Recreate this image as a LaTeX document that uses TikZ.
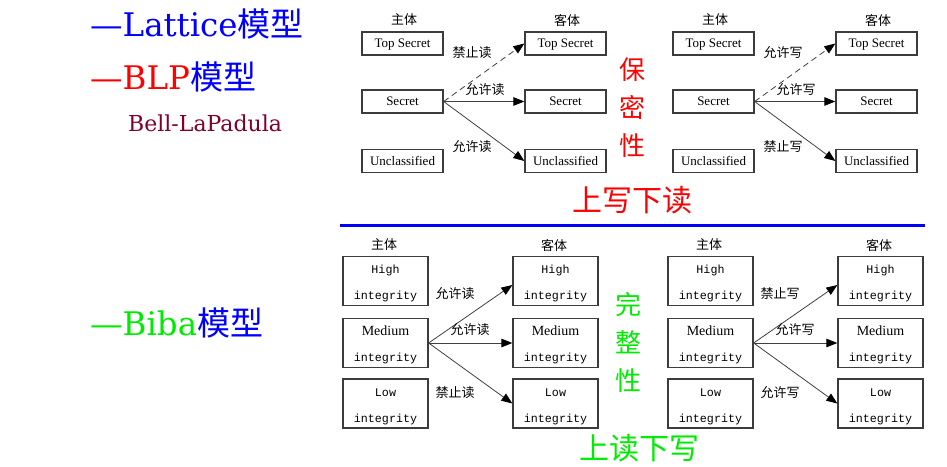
\documentclass[tikz,border=0pt]{standalone}
\usepackage{fontspec}
\setmainfont{Liberation Serif}
\newfontfamily\titlefont{DejaVu Serif}
\newfontfamily\cjk{Noto Sans CJK SC}
\newfontfamily\typefont{Liberation Mono}
\usepackage{tikz}
\usetikzlibrary{arrows.meta}
\definecolor{bibagreen}{RGB}{0,235,0}
\definecolor{padulared}{RGB}{128,0,40}
\definecolor{boxgray}{RGB}{60,60,60}
\tikzset{
  lvlbox/.style={draw=boxgray, line width=1.3pt, minimum width=81pt, minimum height=23pt,
    inner sep=0pt, text height=10.8pt, text depth=2pt, font=\fontsize{13}{13}\selectfont},
  intbox/.style={draw=boxgray, line width=1.3pt, minimum width=85pt, minimum height=49pt,
    inner sep=0pt, align=center, font=\fontsize{11.7}{26}\typefont},
  flow/.style={draw=black!75, line width=0.8pt, -{Triangle[length=11pt,width=8.5pt,color=black]}},
  rel/.style={inner sep=1pt, font=\fontsize{13}{13}\cjk},
  title/.style={anchor=base west, inner sep=0pt, font=\fontsize{32.5}{32.5}\titlefont},
  vert/.style={align=center, inner sep=0pt, font=\fontsize{26}{38}\cjk},
  motto/.style={inner sep=0pt, font=\fontsize{30}{30}\cjk},
}
\newcommand{\cjkbig}{\fontsize{33}{33}\cjk}

\begin{document}
\begin{tikzpicture}[x=1pt,y=-1pt]
  \useasboundingbox (0,0) rectangle (947,466);
  % model names on the left
  \node[title, blue] (lattice) at (90,36) {—Lattice{\cjkbig 模型}};
  \node[title] (blp) at (90,89) {\textcolor{red}{—BLP}\textcolor{blue}{\cjkbig 模型}};
  \node[title, padulared, font=\fontsize{22}{22}\titlefont] (padula) at (128,131) {Bell-LaPadula};
  \node[title] (biba) at (90,335) {\textcolor{bibagreen}{—Biba}\textcolor{blue}{\cjkbig 模型}};

  % BLP: read down, write up
  \foreach \dx/\d/\ra/\rb/\rc in {0/r/禁止读/允许读/允许读, 311/w/允许写/允许写/禁止写} {
    \begin{scope}[xshift=\dx]
      \node[rel] (sub\d) at (404,20) {主体};
      \node[rel] (obj\d) at (567,20) {客体};
      \node[lvlbox] (sub\d-ts) at (402.5,43.5) {Top Secret};
      \node[lvlbox] (sub\d-s) at (402.5,101.5) {Secret};
      \node[lvlbox] (sub\d-u) at (402.5,161) {Unclassified};
      \node[lvlbox] (obj\d-ts) at (565.5,43.5) {Top Secret};
      \node[lvlbox] (obj\d-s) at (565.5,101.5) {Secret};
      \node[lvlbox] (obj\d-u) at (565.5,161) {Unclassified};
      \draw[flow, dash pattern=on 6pt off 4pt] (sub\d-s.east) -- (obj\d-ts.west);
      \draw[flow] (sub\d-s.east) -- (obj\d-s.west);
      \draw[flow] (sub\d-s.east) -- (obj\d-u.west);
      \node[rel] (rel\d-a) at (472,53) {\ra};
      \node[rel] (rel\d-b) at (485,90) {\rb};
      \node[rel] (rel\d-c) at (472,147) {\rc};
    \end{scope}
  }
  \node[vert, red] (secrecy) at (632,108) {保\\密\\性};
  \node[motto, red] (blprule) at (632,200) {上写下读};

  \draw[blue, line width=3pt] (340,225) -- (925,225);

  % Biba: read up, write down
  \foreach \dx/\d/\ra/\rb/\rc in {0/r/允许读/允许读/禁止读, 325/w/禁止写/允许写/允许写} {
    \begin{scope}[xshift=\dx]
      \node[rel] (isub\d) at (384,245) {主体};
      \node[rel] (iobj\d) at (554,245) {客体};
      \node[intbox] (isub\d-h) at (385.5,281) {\rule{0pt}{14pt}High\\integrity};
      \node[intbox] (isub\d-m) at (385.5,343) {\rule{0pt}{14pt}{\rmfamily\fontsize{14}{26}\selectfont Medium}\\integrity};
      \node[intbox] (isub\d-l) at (385.5,403.5) {\rule{0pt}{14pt}Low\\integrity};
      \node[intbox] (iobj\d-h) at (555.5,281) {\rule{0pt}{14pt}High\\integrity};
      \node[intbox] (iobj\d-m) at (555.5,343) {\rule{0pt}{14pt}{\rmfamily\fontsize{14}{26}\selectfont Medium}\\integrity};
      \node[intbox] (iobj\d-l) at (555.5,403.5) {\rule{0pt}{14pt}Low\\integrity};
      \draw[flow] (isub\d-m.east) -- ([yshift=-4pt]iobj\d-h.west);
      \draw[flow] (isub\d-m.east) -- (iobj\d-m.west);
      \draw[flow] (isub\d-m.east) -- (iobj\d-l.west);
      \node[rel] (irel\d-a) at (455,294) {\ra};
      \node[rel] (irel\d-b) at (470,330) {\rb};
      \node[rel] (irel\d-c) at (455,393) {\rc};
    \end{scope}
  }
  \node[vert, bibagreen] (integrity) at (628,342) {完\\整\\性};
  \node[motto, bibagreen] (bibarule) at (639,448) {上读下写};
\end{tikzpicture}
\end{document}
